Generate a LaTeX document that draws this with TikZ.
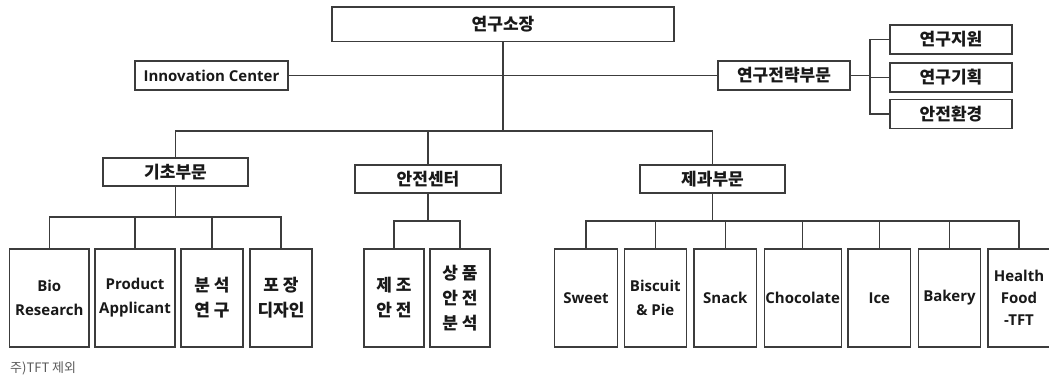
\documentclass[tikz,border=0pt]{standalone}
\usepackage{fontspec}
\newfontfamily\kr{Noto Sans CJK KR}
\newfontfamily\lat{Open Sans}
\definecolor{lc}{RGB}{60,60,60}
\definecolor{notec}{RGB}{90,90,90}
\begin{document}
\begin{tikzpicture}[x=1pt,y=-1pt,
  ln/.style={draw=lc, line width=1.4pt},
  bx/.style={draw=lc, line width=1.4pt, inner sep=0pt, align=center, fill=white, text=black!90},
  ko/.style={font=\kr\bfseries\fontsize{17}{25}\selectfont},
  en/.style={font=\lat\bfseries\fontsize{15}{24}\selectfont},
  lo/.style={minimum height=98pt},
]
\useasboundingbox (0,0) rectangle (1049,378);
% top levels
\node[bx,ko,minimum width=342pt,minimum height=34.5pt] (top) at (503,24.25) {연구소장};
\node[bx,en,minimum width=153pt,minimum height=29pt] (ic) at (211.5,75.5) {Innovation Center};
\node[bx,ko,minimum width=132pt,minimum height=29pt] (strat) at (784,75.5) {연구전략부문};
\node[bx,ko,minimum width=122pt,minimum height=29pt] (s1) at (951,39.5) {연구지원};
\node[bx,ko,minimum width=122pt,minimum height=29pt] (s2) at (951,77.5) {연구기획};
\node[bx,ko,minimum width=122pt,minimum height=29pt] (s3) at (951,114) {안전환경};
\node[bx,ko,minimum width=145pt,minimum height=28pt] (basic) at (175.5,172) {기초부문};
\node[bx,ko,minimum width=146pt,minimum height=28pt] (safe) at (428,179) {안전센터};
\node[bx,ko,minimum width=145pt,minimum height=28pt] (conf) at (712.5,179) {제과부문};
% bottom level
\node[bx,en,lo,minimum width=79.5pt] (bio) at (49.3,298) {Bio\\Research};
\node[bx,en,lo,minimum width=80pt] (prod) at (135,298) {Product\\Applicant};
\node[bx,ko,lo,minimum width=62pt] (anal) at (212,298) {분 석\\연 구};
\node[bx,ko,lo,minimum width=62pt] (pack) at (281,298) {포 장\\디자인};
\node[bx,ko,lo,minimum width=60pt] (manu) at (394,298) {제 조\\안 전};
\node[bx,ko,lo,minimum width=60pt] (goods) at (460,298) {상 품\\안 전\\분 석};
\node[bx,en,lo,minimum width=62.5pt] (sweet) at (586,298) {Sweet};
\node[bx,en,lo,minimum width=62pt] (bisc) at (655.3,298) {Biscuit\\\& Pie};
\node[bx,en,lo,minimum width=62.5pt] (snack) at (725.3,298) {Snack};
\node[bx,en,lo,minimum width=77pt] (choc) at (802.7,298) {Chocolate};
\node[bx,en,lo,minimum width=62.7pt] (ice) at (879.3,298) {Ice};
\node[bx,en,lo,minimum width=62pt] (bak) at (949.5,298) {Bakery};
\node[bx,en,lo,minimum width=62pt,font=\lat\bfseries\fontsize{15}{22}\selectfont] (hf) at (1019,298) {Health\\Food\\-TFT};
\node[anchor=west, inner sep=0pt, text=notec, font=\kr\fontsize{13}{13}\selectfont] (note) at (10,368) {주)TFT 제외};
% connectors
\coordinate (j0) at (503,131);
\draw[ln] (top.south) -- (j0);
\draw[ln] (ic.east) -- (strat.west);
\draw[ln] (basic.north) -- (basic.north |- j0) -- (conf.north |- j0) -- (conf.north);
\draw[ln] (safe.north) -- (safe.north |- j0);
% strategy bracket
\coordinate (br) at (870,77.5);
\draw[ln] (strat.east) -- (strat.east -| br);
\draw[ln] (s1.west) -- (s1.west -| br) -- (s3.west -| br) -- (s3.west);
\draw[ln] (s2.west) -- (s2.west -| br);
% basic group
\coordinate (jb) at (175.5,217);
\draw[ln] (basic.south) -- (jb);
\draw[ln] (bio.north) -- (bio.north |- jb) -- (pack.north |- jb) -- (pack.north);
\draw[ln] (prod.north) -- (prod.north |- jb);
\draw[ln] (anal.north) -- (anal.north |- jb);
% safety group
\coordinate (js) at (428,221);
\draw[ln] (safe.south) -- (js);
\draw[ln] (manu.north) -- (manu.north |- js) -- (goods.north |- js) -- (goods.north);
% confectionery group
\coordinate (jc) at (712.5,221);
\draw[ln] (conf.south) -- (jc);
\draw[ln] (sweet.north) -- (sweet.north |- jc) -- (hf.north |- jc) -- (hf.north);
\foreach \n in {bisc,snack,choc,ice,bak} \draw[ln] (\n.north) -- (\n.north |- jc);
\end{tikzpicture}
\end{document}
